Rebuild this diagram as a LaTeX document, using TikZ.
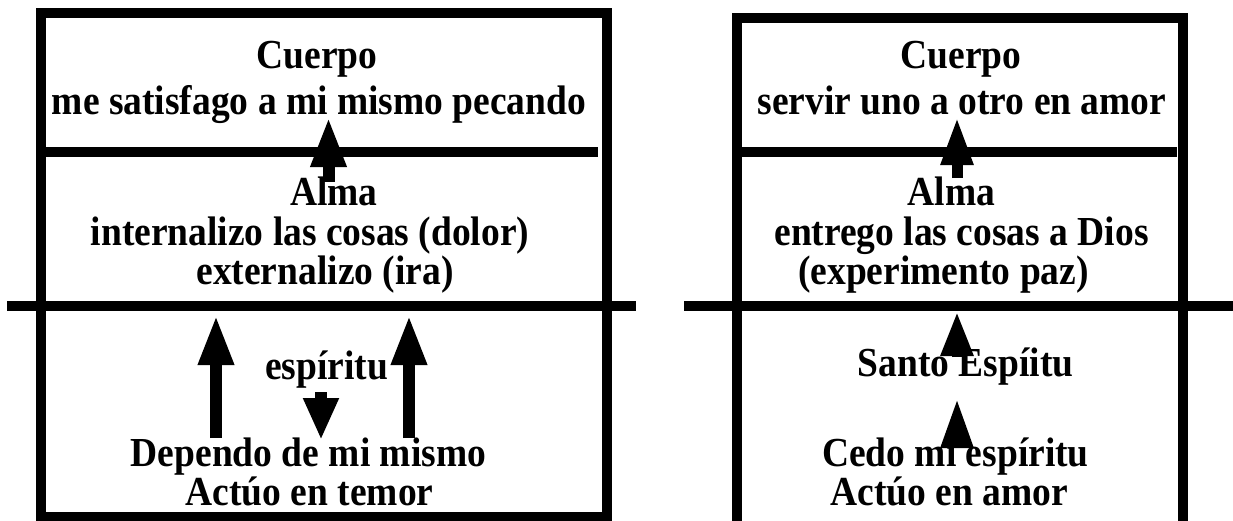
\documentclass[tikz,border=0pt]{standalone}
\usepackage{fontspec}
\setmainfont{Liberation Serif}
\usetikzlibrary{arrows.meta}
\begin{document}
\begin{tikzpicture}[x=1pt,y=-1pt,
  frame/.style={line width=10pt,line cap=butt},
  lbl/.style={font=\fontsize{37.5}{40}\bfseries\selectfont,inner sep=0pt,anchor=base,yscale=1.1},
  uparrow/.style={line width=12pt,-{Triangle[length=50pt,width=33pt]}},
  downarrow/.style={line width=12pt,-{Triangle[length=42pt,width=33pt]}},
  rarrow/.style={line width=11pt}]
\useasboundingbox (0,0) rectangle (1233,520);
% left panel frame
\draw[frame] (41,13) rectangle (607,517);
\draw[frame] (46,152) -- (598,152);
\draw[frame] (7,306) -- (636,306);
% right panel frame
\draw[frame] (737,530) -- (737,18) -- (1182.5,18) -- (1182.5,530);
\draw[frame] (742,152) -- (1177,152);
\draw[frame] (684,306) -- (1240,306);
% left texts
\node[lbl] (lc) at (317,68) {Cuerpo};
\node[lbl] (lc2) at (319,114) {me satisfago a mi mismo pecando};
\node[lbl] (la) at (334,205) {Alma};
\node[lbl] (la2) at (310,245) {internalizo las cosas (dolor)};
\node[lbl] (la3) at (325,284) {externalizo (ira)};
\node[lbl] (le) at (326.5,379) {espíritu};
\node[lbl] (le2) at (308.5,466) {Dependo de mi mismo};
\node[lbl] (le3) at (309.5,505) {Actúo en temor};
% right texts
\node[lbl] (rc) at (961,68) {Cuerpo};
\node[lbl] (rc2) at (962,114) {servir uno a otro en amor};
\node[lbl] (ra) at (951.5,205) {Alma};
\node[lbl] (ra2) at (961.5,245) {entrego las cosas a Dios};
\node[lbl] (ra3) at (943.5,284) {(experimento paz)};
\node[lbl] (re) at (965.5,376) {Santo Espíitu};
\node[lbl] (re2) at (955.5,466) {Cedo mi espíritu};
\node[lbl] (re3) at (949.5,505) {Actúo en amor};
% left arrows
\coordinate (l1s) at (328.5,182); \coordinate (l1e) at (328.5,117);
\draw[uparrow] (l1s) -- (l1e);
\coordinate (l2s) at (216,438); \coordinate (l2e) at (216,315);
\draw[uparrow] (l2s) -- (l2e);
\coordinate (l3s) at (409,438); \coordinate (l3e) at (409,315);
\draw[uparrow] (l3s) -- (l3e);
\coordinate (l4s) at (321,392); \coordinate (l4e) at (321,440);
\draw[downarrow] (l4s) -- (l4e);
% right arrows
\coordinate (r1s) at (957,178); \coordinate (r1e) at (957,117);
\draw[rarrow,-{Triangle[length=48pt,width=30pt]}] (r1s) -- (r1e);
\coordinate (r2s) at (957,357); \coordinate (r2e) at (957,311);
\draw[rarrow,-{Triangle[length=45pt,width=30pt]}] (r2s) -- (r2e);
\coordinate (r3s) at (957,448); \coordinate (r3e) at (957,398);
\draw[rarrow,-{Triangle[length=50pt,width=30pt]}] (r3s) -- (r3e);
\end{tikzpicture}
\end{document}
